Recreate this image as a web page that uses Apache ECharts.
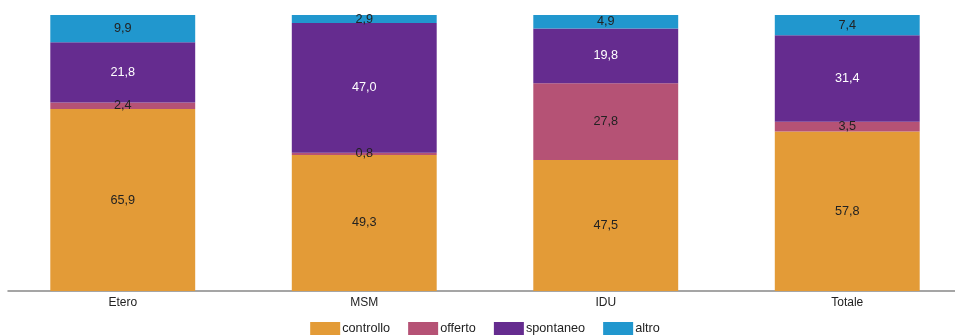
<!DOCTYPE html>
<html>
<head>
<meta charset="utf-8">
<script src="https://cdn.jsdelivr.net/npm/echarts@6/dist/echarts.min.js"></script>
<style>html,body{margin:0;padding:0;background:#fff;overflow:hidden}#c{width:970px;height:336px}</style>
</head>
<body>
<div id="c"></div>
<script>
var categories = ['Etero', 'MSM', 'IDU', 'Totale'];
var controllo = [65.9, 49.3, 47.5, 57.8];
var offerto = [2.4, 0.8, 27.8, 3.5];
var spontaneo = [21.8, 47.0, 19.8, 31.4];
var altro = [9.9, 2.9, 4.9, 7.4];
var seriesNames = ['controllo', 'offerto', 'spontaneo', 'altro'];
var colors = ['#E39B37', '#B55275', '#652C8F', '#2197CE'];
var labelColors = ['#222', '#222', '#fff', '#222'];
var values = [controllo, offerto, spontaneo, altro];

var chart = echarts.init(document.getElementById('c'));
var fmt = function (p) { return p.value.toFixed(1).replace('.', ','); };
chart.setOption({
  animation: false,
  textStyle: { fontFamily: 'Liberation Sans, Arial, sans-serif' },
  legend: {
    data: seriesNames,
    top: 322,
    left: 'center',
    padding: 0,
    itemWidth: 30,
    itemHeight: 13,
    itemGap: 18,
    icon: 'rect',
    textStyle: { fontSize: 12.7, color: '#222', padding: [0, 0, 0, -3] }
  },
  grid: [
    { left: 2, right: 2, top: 15, bottom: 45 },
    { left: 8, right: 15, top: 15, bottom: 45 }
  ],
  xAxis: [
    {
      type: 'category', data: categories, gridIndex: 0,
      axisLine: { show: false }, axisTick: { show: false },
      axisLabel: { fontSize: 12, color: '#222', margin: 6 }
    },
    {
      type: 'value', gridIndex: 1, min: 0, max: 1,
      axisLine: { show: true, lineStyle: { color: '#888', width: 1.5 } },
      axisTick: { show: false }, axisLabel: { show: false }, splitLine: { show: false }
    }
  ],
  yAxis: [
    { type: 'value', gridIndex: 0, min: 0, max: 100, show: false },
    { type: 'value', gridIndex: 1, min: 0, max: 1, show: false }
  ],
  series: values.map(function (v, i) {
    return {
      name: seriesNames[i], type: 'bar', stack: 'tot', data: v,
      barWidth: '60%',
      itemStyle: { color: colors[i] },
      label: { show: true, position: 'inside', offset: [0, 1.5], formatter: fmt, fontSize: 12.7, color: labelColors[i] },
      labelLayout: { hideOverlap: false }
    };
  })
});
</script>
</body>
</html>
